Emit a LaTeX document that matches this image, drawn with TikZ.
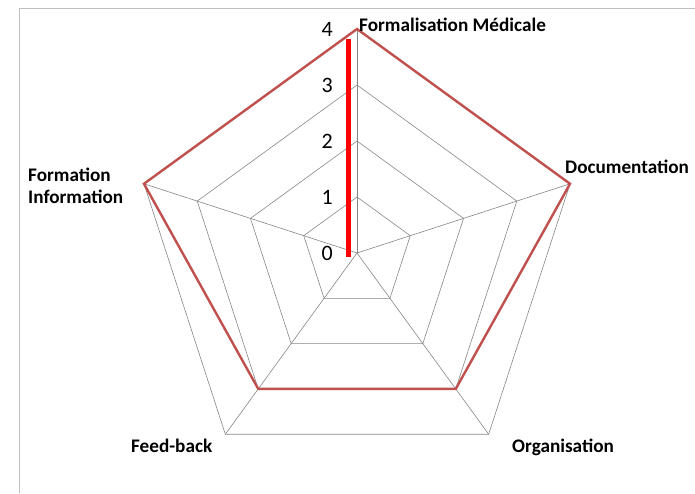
\documentclass[tikz,border=0pt]{standalone}
\usepackage{fontspec}
\setmainfont{Carlito}
\usetikzlibrary{calc}

\definecolor{datared}{RGB}{192,80,77}
\definecolor{gridgray}{RGB}{134,134,134}
\definecolor{framegray}{RGB}{190,190,190}

\begin{document}
\begin{tikzpicture}[x=1pt,y=1pt,
  grid/.style={draw=gridgray,line width=0.6pt},
  data/.style={draw=datared,line width=2.4pt,line join=miter},
  axis label/.style={font=\fontsize{19.2}{22}\selectfont\bfseries,inner sep=0pt,align=left},
  tick/.style={font=\fontsize{22}{24}\selectfont,inner sep=0pt,anchor=east}]
\useasboundingbox (0,0) rectangle (695,-493);
\draw[framegray,line width=0.8pt] (19,-493) -- (19,-8) -- (695,-8);

\coordinate (c) at (357,-253);
% grid
\foreach \r in {56,112,168,224}
  \draw[grid] ($(c)+(90:\r)$) -- ($(c)+(18:\r)$) -- ($(c)+(-54:\r)$) -- ($(c)+(-126:\r)$) -- ($(c)+(162:\r)$) -- cycle;
\foreach \a in {90,18,-54,-126,162}
  \draw[grid] (c) -- ($(c)+(\a:224)$);

% data
\draw[data] ($(c)+(90:224)$) -- ($(c)+(18:224)$) -- ($(c)+(-54:168)$) -- ($(c)+(-126:168)$) -- ($(c)+(162:224)$) -- cycle;

% value axis
\draw[red,line width=5pt] (348,-257) -- (348,-39);
\foreach \v in {0,...,4}
  \node[tick] (t\v) at (333,{-253+56*\v}) {\v};

% axis labels
\node[axis label,anchor=base west] (form) at (359,-31) {Formalisation Médicale};
\node[axis label,anchor=base west] (doc) at (565,-173) {Documentation};
\node[axis label,anchor=base west] (orga) at (512,-452) {Organisation};
\node[axis label,anchor=base west] (feed) at (131,-452) {Feed-back};
\node[axis label,anchor=north west] (info) at (28,-168) {Formation\\Information};
\end{tikzpicture}
\end{document}
